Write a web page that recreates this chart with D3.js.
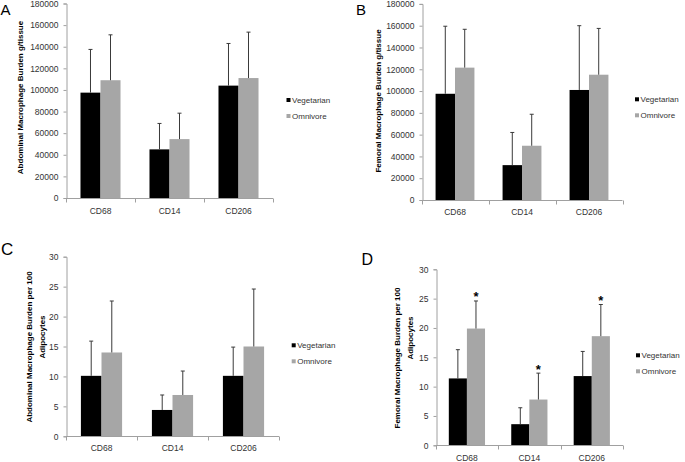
<!DOCTYPE html>
<html>
<head>
<meta charset="utf-8">
<script src="https://cdn.jsdelivr.net/npm/d3@7"></script>
<style>
  html, body { margin: 0; padding: 0; background: #fff; }
  svg { display: block; font-family: "Liberation Sans", Arial, sans-serif; }
</style>
</head>
<body>
<svg id="chart" width="685" height="462"></svg>
<script>
// ---------- data ----------
const categories = ["CD68", "CD14", "CD206"];
const seriesNames = ["Vegetarian", "Omnivore"];

// Panel A: Abdominal macrophage burden g/tissue
const aVeg = [97500, 45000, 104000];
const aVegErr = [40000, 24000, 39000];
const aOmn = [109000, 54500, 111000];
const aOmnErr = [42000, 24000, 42500];
const aTicks = [0, 20000, 40000, 60000, 80000, 100000, 120000, 140000, 160000, 180000];

// Panel B: Femoral macrophage burden g/tissue
const bVeg = [97500, 32000, 101000];
const bVegErr = [62000, 30000, 59000];
const bOmn = [121500, 49800, 115000];
const bOmnErr = [35200, 28900, 42500];
const bTicks = [0, 20000, 40000, 60000, 80000, 100000, 120000, 140000, 160000, 180000];

// Panel C: Abdominal macrophage burden per 100 adipocytes
const cVeg = [10.1, 4.4, 10.1];
const cVegErr = [5.8, 2.5, 4.8];
const cOmn = [14.0, 6.9, 15.0];
const cOmnErr = [8.6, 4.0, 9.6];
const cTicks = [0, 5, 10, 15, 20, 25, 30];

// Panel D: Femoral macrophage burden per 100 adipocytes
const dVeg = [11.4, 3.6, 11.8];
const dVegErr = [4.9, 2.8, 4.2];
const dOmn = [19.9, 7.8, 18.6];
const dOmnErr = [4.7, 4.5, 5.4];
const dTicks = [0, 5, 10, 15, 20, 25, 30];
const dSignificant = [true, true, true];

const panelLetters = ["A", "B", "C", "D"];
const yLabels = [
  ["Abdominal Macrophage Burden g/tissue"],
  ["Femoral Macrophage Burden g/tissue"],
  ["Abdominal Macrophage Burden per 100", "Adipocytes"],
  ["Femoral Macrophage Burden per 100", "Adipocytes"]
];

// ---------- layout ----------
const colors = { Vegetarian: "#000000", Omnivore: "#a6a6a6" };
const axisColor = "#a0a0a0";
const textColor = "#333333";

const panels = [
  { letter: panelLetters[0], letterPos: [0.5, 14.5], letterSize: 15,
    veg: aVeg, vegErr: aVegErr, omn: aOmn, omnErr: aOmnErr, ticks: aTicks,
    x: [66, 273], y: [198, 3.5],
    ylab: yLabels[0], ylabPos: [[20, 97.5]],
    legend: [286.5, 98], sig: null, catY: 213.5 },
  { letter: panelLetters[1], letterPos: [356, 15], letterSize: 15,
    veg: bVeg, vegErr: bVegErr, omn: bOmn, omnErr: bOmnErr, ticks: bTicks,
    x: [421.5, 622.5], y: [200, 3.9],
    ylab: yLabels[1], ylabPos: [[378.3, 101]],
    legend: [635, 97.3], sig: null, catY: 215 },
  { letter: panelLetters[2], letterPos: [1, 255], letterSize: 17,
    veg: cVeg, vegErr: cVegErr, omn: cOmn, omnErr: cOmnErr, ticks: cTicks,
    x: [66, 279], y: [436.3, 256.7],
    ylab: yLabels[2], ylabPos: [[29.3, 347], [41.7, 337]],
    legend: [291.7, 343.3], sig: null, catY: 450.5 },
  { letter: panelLetters[3], letterPos: [361.5, 265], letterSize: 16,
    veg: dVeg, vegErr: dVegErr, omn: dOmn, omnErr: dOmnErr, ticks: dTicks,
    x: [435.7, 623], y: [445.3, 269.3],
    ylab: yLabels[3], ylabPos: [[397, 358], [410.5, 338]],
    legend: [636, 353.3], sig: dSignificant, catY: 461 }
];

const svg = d3.select("#chart");

panels.forEach(p => {
  const g = svg.append("g");
  const maxV = p.ticks[p.ticks.length - 1];
  const y = d3.scaleLinear().domain([0, maxV]).range(p.y);
  const x = d3.scaleBand().domain(categories).range(p.x).paddingInner(0).paddingOuter(0);
  const bw = x.bandwidth();
  const xs = d3.scaleBand().domain(seriesNames).range([0.21 * bw, 0.79 * bw]).padding(0);

  const rows = categories.map((c, i) => ({
    cat: c,
    vals: [
      { s: "Vegetarian", v: p.veg[i], e: p.vegErr[i] },
      { s: "Omnivore", v: p.omn[i], e: p.omnErr[i] }
    ],
    sig: p.sig ? p.sig[i] : false
  }));

  // bars
  const grp = g.selectAll("g.cat").data(rows).join("g")
    .attr("transform", d => `translate(${x(d.cat)},0)`);
  grp.selectAll("rect").data(d => d.vals).join("rect")
    .attr("x", d => xs(d.s))
    .attr("width", xs.bandwidth())
    .attr("y", d => y(d.v))
    .attr("height", d => y(0) - y(d.v))
    .attr("fill", d => colors[d.s]);

  // error bars
  grp.selectAll("line.err").data(d => d.vals).join("line")
    .attr("class", "err")
    .attr("x1", d => xs(d.s) + xs.bandwidth() / 2)
    .attr("x2", d => xs(d.s) + xs.bandwidth() / 2)
    .attr("y1", d => y(d.v))
    .attr("y2", d => y(d.v + d.e))
    .attr("stroke", "#3a3a3a").attr("stroke-width", 1);
  grp.selectAll("line.cap").data(d => d.vals).join("line")
    .attr("class", "cap")
    .attr("x1", d => xs(d.s) + xs.bandwidth() / 2 - 2)
    .attr("x2", d => xs(d.s) + xs.bandwidth() / 2 + 2)
    .attr("y1", d => y(d.v + d.e))
    .attr("y2", d => y(d.v + d.e))
    .attr("stroke", "#3a3a3a").attr("stroke-width", 1);

  // significance
  grp.filter(d => d.sig).append("text")
    .attr("x", d => xs("Omnivore") + xs.bandwidth() / 2)
    .attr("y", d => y(d.vals[1].v + d.vals[1].e) + 0.5)
    .attr("text-anchor", "middle")
    .attr("font-size", 13).attr("font-weight", "bold")
    .attr("fill", "#000")
    .text("*");

  // y axis
  const yAxis = d3.axisLeft(y).tickValues(p.ticks).tickSize(3).tickPadding(5)
    .tickFormat(d3.format("d"));
  const ya = g.append("g").attr("transform", `translate(${Math.round(p.x[0]) + 0.5},0)`).call(yAxis);
  ya.select(".domain").attr("stroke", axisColor);
  ya.selectAll(".tick line").attr("stroke", axisColor);
  ya.selectAll(".tick text").attr("fill", textColor).attr("font-size", 8.5)
    .attr("font-family", '"Liberation Sans", Arial, sans-serif');

  // x axis
  const xa = g.append("g").attr("transform", `translate(0,${Math.round(y(0)) + 0.5})`);
  xa.append("line").attr("x1", p.x[0]).attr("x2", p.x[1]).attr("stroke", axisColor);
  const bounds = [p.x[0], ...categories.map(c => x(c) + bw)];
  xa.selectAll("line.tk").data(bounds).join("line").attr("class", "tk")
    .attr("x1", d => Math.round(d) + 0.5).attr("x2", d => Math.round(d) + 0.5)
    .attr("y1", 0).attr("y2", 4).attr("stroke", axisColor);
  g.selectAll("text.cat").data(categories).join("text").attr("class", "cat")
    .attr("x", d => x(d) + bw / 2)
    .attr("y", p.catY)
    .attr("text-anchor", "middle")
    .attr("font-size", 8.5).attr("fill", textColor)
    .text(d => d);

  // y label
  p.ylab.forEach((t, i) => {
    const [cx, cy] = p.ylabPos[i];
    g.append("text")
      .attr("transform", `translate(${cx},${cy}) rotate(-90)`)
      .attr("text-anchor", "middle")
      .attr("dy", "0.35em")
      .attr("font-size", 8).attr("font-weight", "bold").attr("fill", "#000")
      .text(t);
  });

  // legend
  const lg = g.append("g").attr("transform", `translate(${p.legend[0]},${p.legend[1]})`);
  seriesNames.forEach((s, i) => {
    lg.append("rect").attr("x", 0).attr("y", i * 16).attr("width", 4).attr("height", 4)
      .attr("fill", colors[s]);
    lg.append("text").attr("x", 5.5).attr("y", i * 16 + 4.5)
      .attr("font-size", 8).attr("fill", textColor).text(s);
  });

  // panel letter
  g.append("text").attr("x", p.letterPos[0]).attr("y", p.letterPos[1])
    .attr("font-size", p.letterSize).attr("fill", "#000").text(p.letter);
});
</script>
</body>
</html>
